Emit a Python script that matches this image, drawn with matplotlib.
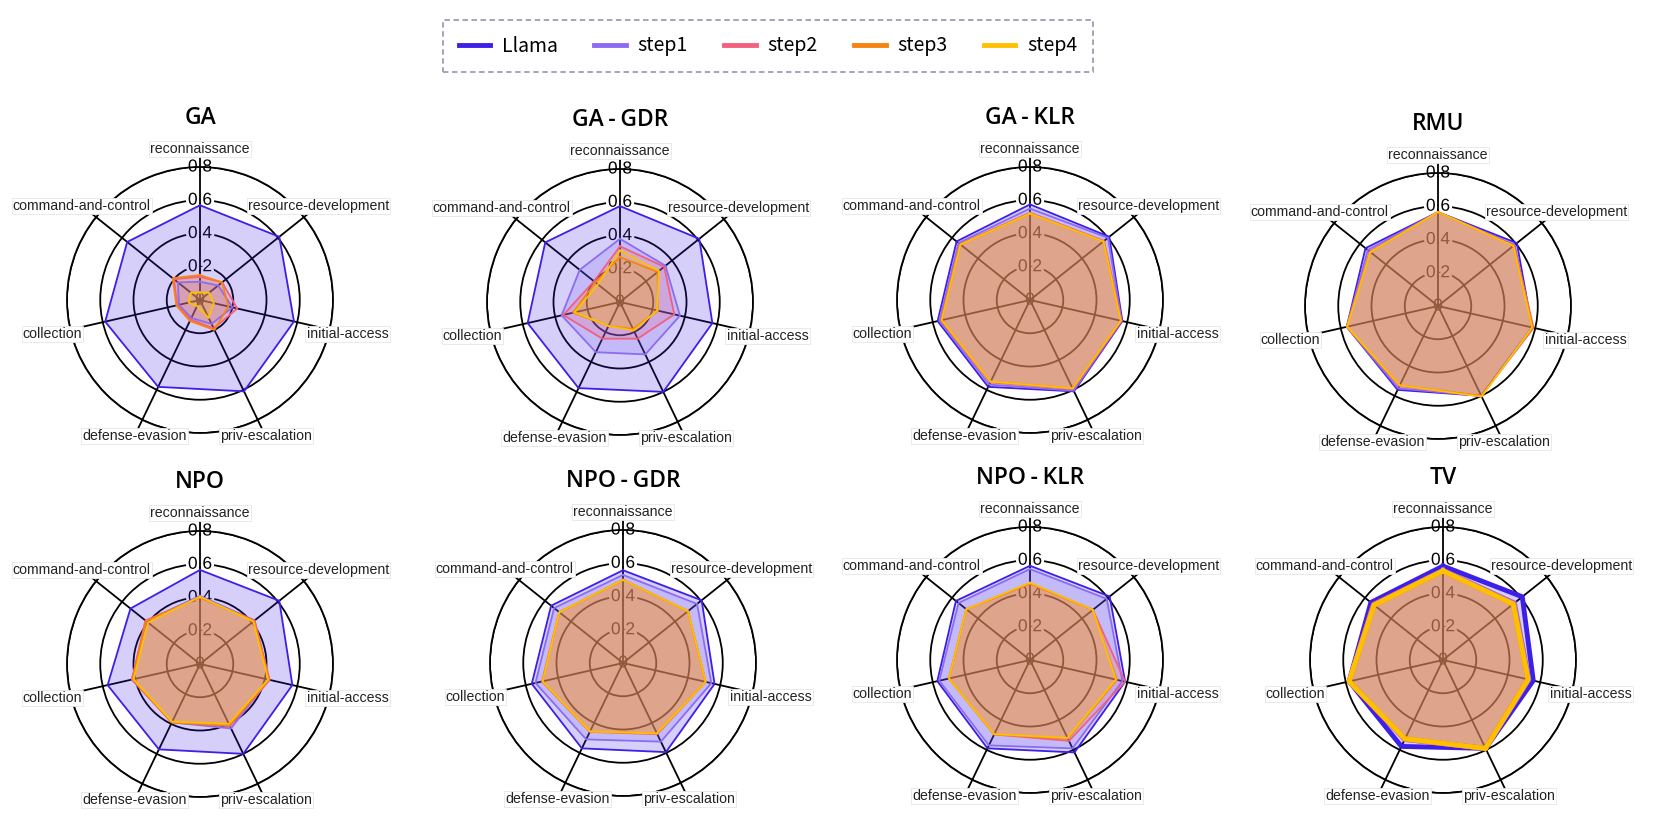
import numpy as np
import matplotlib.pyplot as plt
import matplotlib.patheffects as pe

categories = ['reconnaissance', 'resource-development', 'initial-access', 'priv-escalation',
              'defense-evasion', 'collection', 'command-and-control']
series = ['Llama', 'step1', 'step2', 'step3', 'step4']
colors = ['#3d1fe8', '#8b6cf2', '#f2607e', '#f5850f', '#ffc000']
rticks = [0, 0.2, 0.4, 0.6, 0.8]
rtick_labels = ['0', '0.2', '0.4', '0.6', '0.8']

# one row per series: Llama, step1..step4
ga = [[0.57, 0.61, 0.58, 0.61, 0.58, 0.585, 0.56],
      [0.11, 0.14, 0.20, 0.16, 0.12, 0.13, 0.17],
      [0.14, 0.17, 0.23, 0.19, 0.13, 0.14, 0.20],
      [0.15, 0.17, 0.175, 0.20, 0.14, 0.146, 0.21],
      [0.045, 0.07, 0.085, 0.12, 0.04, 0.07, 0.07]]
ga_gdr = [[0.577, 0.61, 0.57, 0.60, 0.575, 0.57, 0.575],
          [0.38, 0.35, 0.37, 0.35, 0.335, 0.36, 0.31],
          [0.335, 0.34, 0.335, 0.245, 0.245, 0.35, 0.20],
          [0.27, 0.29, 0.235, 0.18, 0.16, 0.29, 0.19],
          [0.31, 0.30, 0.23, 0.19, 0.16, 0.28, 0.17]]
ga_klr = [[0.575, 0.61, 0.57, 0.61, 0.58, 0.57, 0.565],
          [0.55, 0.60, 0.565, 0.605, 0.565, 0.56, 0.55],
          [0.525, 0.57, 0.565, 0.595, 0.55, 0.55, 0.54],
          [0.52, 0.565, 0.56, 0.59, 0.545, 0.545, 0.535],
          [0.52, 0.565, 0.56, 0.59, 0.545, 0.545, 0.535]]
rmu = [[0.565, 0.607, 0.58, 0.60, 0.56, 0.563, 0.558],
       [0.565, 0.59, 0.58, 0.60, 0.55, 0.563, 0.54],
       [0.565, 0.585, 0.59, 0.60, 0.535, 0.563, 0.525],
       [0.565, 0.58, 0.585, 0.60, 0.53, 0.563, 0.52],
       [0.565, 0.58, 0.58, 0.605, 0.53, 0.56, 0.52]]
npo = [[0.566, 0.61, 0.57, 0.60, 0.57, 0.57, 0.535],
       [0.41, 0.42, 0.425, 0.43, 0.39, 0.42, 0.415],
       [0.40, 0.42, 0.43, 0.415, 0.39, 0.42, 0.42],
       [0.40, 0.415, 0.425, 0.41, 0.39, 0.415, 0.415],
       [0.405, 0.41, 0.42, 0.40, 0.385, 0.41, 0.40]]
npo_gdr = [[0.558, 0.605, 0.565, 0.595, 0.57, 0.563, 0.553],
           [0.53, 0.57, 0.545, 0.525, 0.51, 0.54, 0.53],
           [0.50, 0.50, 0.51, 0.475, 0.46, 0.50, 0.49],
           [0.50, 0.50, 0.51, 0.47, 0.457, 0.496, 0.49],
           [0.50, 0.50, 0.51, 0.47, 0.457, 0.496, 0.49]]
npo_klr = [[0.567, 0.613, 0.587, 0.617, 0.59, 0.572, 0.57],
           [0.547, 0.59, 0.57, 0.59, 0.57, 0.56, 0.55],
           [0.46, 0.484, 0.587, 0.54, 0.497, 0.50, 0.49],
           [0.46, 0.484, 0.536, 0.525, 0.497, 0.50, 0.49],
           [0.465, 0.484, 0.53, 0.52, 0.495, 0.50, 0.49]]
tv = [[0.565, 0.61, 0.557, 0.59, 0.577, 0.579, 0.555],
      [0.54, 0.55, 0.53, 0.59, 0.53, 0.579, 0.535],
      [0.536, 0.545, 0.525, 0.59, 0.53, 0.579, 0.535],
      [0.536, 0.54, 0.525, 0.59, 0.526, 0.579, 0.53],
      [0.536, 0.54, 0.525, 0.59, 0.526, 0.579, 0.53]]

names = ['GA', 'GA-GDR', 'GA-KLR', 'RMU', 'NPO', 'NPO-GDR', 'NPO-KLR', 'TV']
datasets = [ga, ga_gdr, ga_klr, rmu, npo, npo_gdr, npo_klr, tv]
# chart centres in pixels
centers = [(200, 300), (620, 302), (1030, 300), (1438, 306),
           (200, 664), (623, 663), (1030, 660), (1443, 660)]

W, H = 1662, 821
R = 133
fig = plt.figure(figsize=(W / 100, H / 100), dpi=100)
angles = np.arange(len(categories)) * 2 * np.pi / len(categories)


def radar(name, data, cx, cy):
    ax = fig.add_axes([(cx - R) / W, 1 - (cy + R) / H, 2 * R / W, 2 * R / H], projection='polar')
    ax.set_theta_offset(np.pi / 2)
    ax.set_theta_direction(-1)
    ax.set_ylim(0, 0.8)
    ax.set_yticks(rticks[1:])
    ax.set_yticklabels([])
    ax.set_xticks([])
    ax.set_axisbelow(True)
    ax.yaxis.grid(True, color='black', lw=1.3)
    ax.spines['polar'].set_color('black')
    ax.spines['polar'].set_linewidth(1.3)

    for r, lab in zip(rticks, rtick_labels):
        ax.text(0, r, lab, ha='center', va='center', fontsize=12.5, family='Liberation Sans',
                zorder=0.7, path_effects=[pe.withStroke(linewidth=4, foreground='white')])
    for a in angles:
        ax.plot([a, a], [0, 0.9], color='black', lw=1.3, zorder=0.9, clip_on=False)

    th = np.append(angles, angles[0])
    for i, vals in enumerate(data):
        v = np.append(vals, vals[0])
        ax.fill(th, v, color=colors[i], alpha=0.21, lw=0, zorder=1 + i * 0.1)
        ax.plot(th, v, color=colors[i], lw=1.3, zorder=3 + i * 0.1, label=series[i])

    for a, c in zip(angles, categories):
        ax.text(a, 0.91, c, ha='center', va='center', fontsize=10.2, family='Liberation Sans',
                color='#222222', zorder=10, clip_on=False,
                bbox=dict(facecolor='white', edgecolor='#e6e6e6', lw=0.6, pad=0.8))

    fig.text(cx / W, 1 - (cy - 182) / H, name.replace('-', '\u2009-\u2009'), ha='center',
             va='center', fontsize=16.5, family=['Open Sans', 'DejaVu Sans'], fontweight='semibold')
    return ax


for name, data, (cx, cy) in zip(names, datasets, centers):
    ax0 = radar(name, data, cx, cy)

handles, labels = ax0.get_legend_handles_labels()
for h in handles:
    h.set_linewidth(3.5)
leg = fig.legend(handles, labels, loc='center', bbox_to_anchor=(768 / W, 1 - 46 / H), ncol=5,
                 prop={'family': 'Noto Sans CJK SC', 'size': 14}, handlelength=1.6,
                 handletextpad=0.6, columnspacing=1.9, borderpad=0.8, fancybox=False,
                 frameon=True, edgecolor='#7f8799')
leg.get_frame().set_linestyle((0, (3, 2)))
leg.get_frame().set_linewidth(1.3)

fig.savefig('out.png', dpi=100)
